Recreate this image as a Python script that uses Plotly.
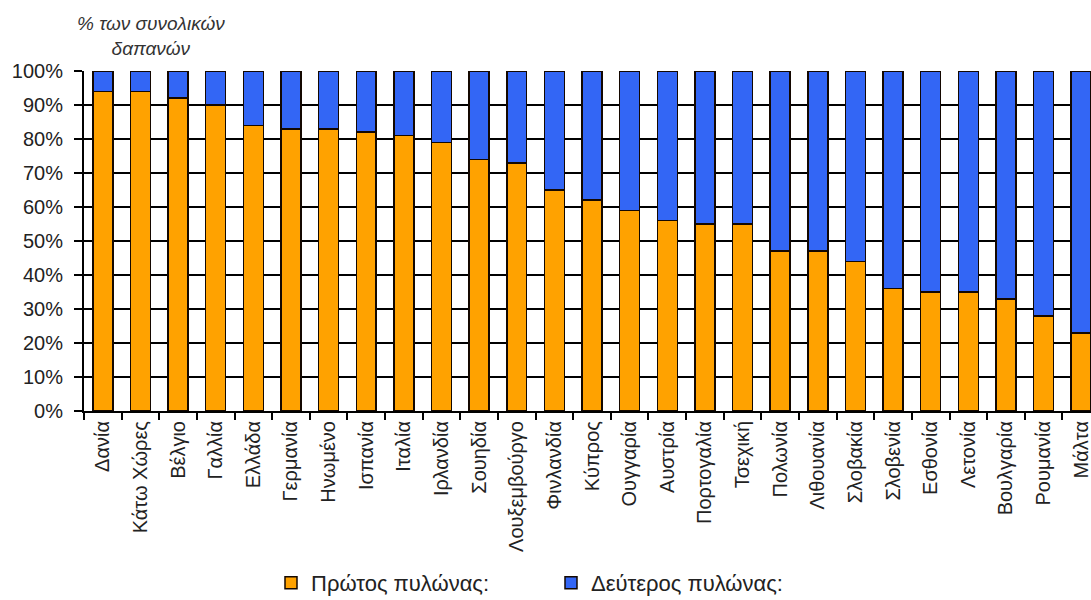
import plotly.graph_objects as go

countries = ["Δανία", "Κάτω Χώρες", "Βέλγιο", "Γαλλία", "Ελλάδα", "Γερμανία", "Ηνωμένο",
             "Ισπανία", "Ιταλία", "Ιρλανδία", "Σουηδία", "Λουξεμβούργο", "Φινλανδία", "Κύπρος",
             "Ουγγαρία", "Αυστρία", "Πορτογαλία", "Τσεχική", "Πολωνία", "Λιθουανία", "Σλοβακία",
             "Σλοβενία", "Εσθονία", "Λετονία", "Βουλγαρία", "Ρουμανία", "Μάλτα"]
first_pillar = [94, 94, 92, 90, 84, 83, 83, 82, 81, 79, 74, 73, 65, 62, 59, 56, 55, 55,
                47, 47, 44, 36, 35, 35, 33, 28, 23]
second_pillar = [6, 6, 8, 10, 16, 17, 17, 18, 19, 21, 26, 27, 35, 38, 41, 44, 45, 45,
                 53, 53, 56, 64, 65, 65, 67, 72, 77]
y_ticks = [0, 10, 20, 30, 40, 50, 60, 70, 80, 90, 100]
y_tick_labels = ["0%", "10%", "20%", "30%", "40%", "50%", "60%", "70%", "80%", "90%", "100%"]
name_first = "Πρώτος πυλώνας:"
name_second = "Δεύτερος πυλώνας:"
y_title = "% των συνολικών<br>δαπανών"

FONT = "Liberation Sans, Arial, sans-serif"

fig = go.Figure()
fig.add_trace(go.Bar(x=countries, y=first_pillar, name=name_first,
                     marker=dict(color="#FFA200", line=dict(color="#140800", width=1.5))))
fig.add_trace(go.Bar(x=countries, y=second_pillar, name=name_second,
                     marker=dict(color="#3366F5", line=dict(color="#140800", width=1.5))))

fig.update_layout(
    width=1091, height=600,
    margin=dict(l=84, r=0, t=71, b=189, autoexpand=False),
    barmode="stack", bargap=0.47,
    plot_bgcolor="white", paper_bgcolor="white",
    font=dict(family=FONT, size=20, color="#222"),
    showlegend=True,
    legend=dict(orientation="h", x=0.1857, xanchor="left", y=-0.506, yanchor="middle",
                font=dict(family=FONT, size=22, color="#222"), entrywidth=235,
                traceorder="normal", bgcolor="rgba(0,0,0,0)"),
    annotations=[dict(text=y_title, xref="paper", yref="paper", x=(151 - 84) / 1007, y=1.0,
                      xanchor="center", yanchor="bottom", yshift=10, showarrow=False,
                      align="center", font=dict(family=FONT, size=19, color="#333", style="italic"))],
)
fig.update_xaxes(type="category", range=[-0.5, 26.26], showgrid=False,
                 showline=True, linecolor="#000", linewidth=2,
                 ticks="outside", tickson="boundaries", ticklen=7, tickwidth=2, tickcolor="#000",
                 tickangle=-90, tickfont=dict(family=FONT, size=20, color="#222"))
fig.update_yaxes(range=[0, 100], tickvals=y_ticks, ticktext=y_tick_labels,
                 showgrid=True, gridcolor="#000", gridwidth=2,
                 showline=True, linecolor="#000", linewidth=2,
                 ticks="outside", ticklen=8, tickwidth=2, tickcolor="#000", ticklabelstandoff=7,
                 tickfont=dict(family=FONT, size=20, color="#222"), zeroline=False)

fig.write_html("out.html")
